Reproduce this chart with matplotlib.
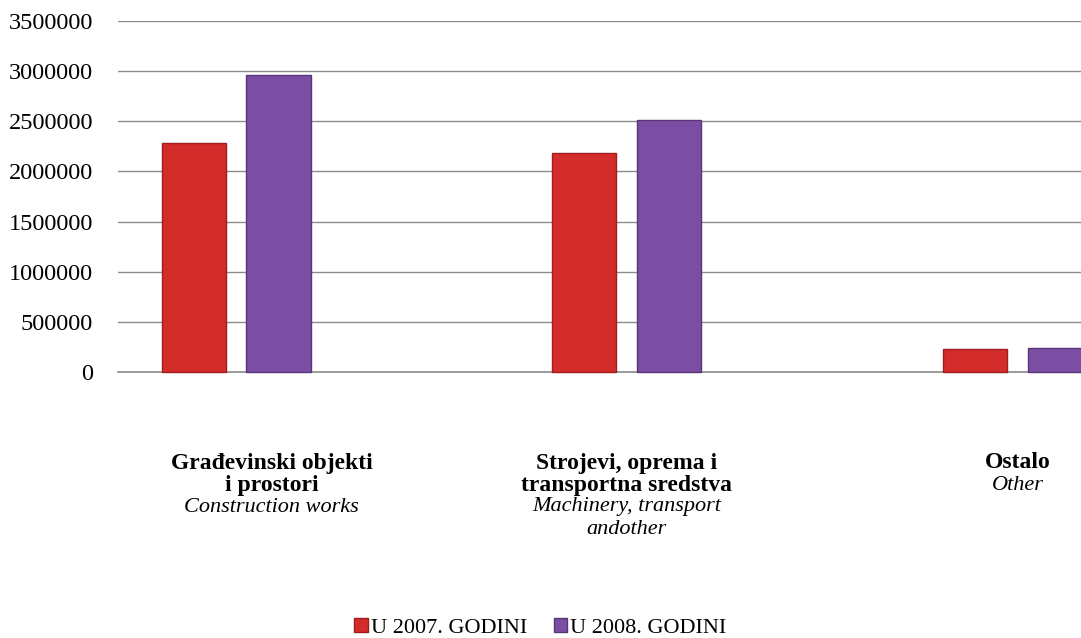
import numpy as np
from matplotlib import pyplot as plt
from matplotlib import transforms

categories_bold = [["Građevinski objekti", "i prostori"],
                   ["Strojevi, oprema i", "transportna sredstva"],
                   ["Ostalo"]]
categories_italic = [["Construction works"],
                     ["Machinery, transport", "andother"],
                     ["Other"]]
series_names = ["U 2007. GODINI", "U 2008. GODINI"]
values_2007 = [2280000, 2180000, 225000]
values_2008 = [2960000, 2510000, 235000]
yticks = [0, 500000, 1000000, 1500000, 2000000, 2500000, 3000000, 3500000]

plt.rcParams["font.family"] = ["Liberation Serif", "DejaVu Serif"]

W, H = 1081, 638
fig = plt.figure(figsize=(W / 100, H / 100), dpi=100)
ax = fig.add_axes([118 / W, 1 - 372 / H, 1 - 118 / W, 351 / H])

x = np.arange(len(values_2007))
w = 0.164
ax.bar(x - 0.109, values_2007, w, color="#d42b2b", edgecolor="#a01c1c", linewidth=1,
       label=series_names[0], zorder=3, clip_on=False)
ax.bar(x + 0.108, values_2008, w, color="#7b4ea3", edgecolor="#573578", linewidth=1,
       label=series_names[1], zorder=3, clip_on=False)

ax.set_ylim(0, 3500000)
ax.set_xlim(-0.303, 2.163)
ax.set_yticks(yticks)
ax.set_yticklabels([str(t) for t in yticks], fontsize=17.5)
ax.set_xticks([])
ax.grid(axis="y", color="#8c8c8c", linewidth=1, zorder=0)
ax.axhline(0, color="#8c8c8c", linewidth=1.2, zorder=1, clip_on=False)
ax.tick_params(axis="y", length=0, pad=18)
for s in ax.spines.values():
    s.set_visible(False)

# category labels under the axis, one line each, 22 px apart
tr = transforms.blended_transform_factory(ax.transData, fig.transFigure)
label_x = [0.09, 1.0, 2.0]
for xi, bold, ital in zip(label_x, categories_bold, categories_italic):
    ypx = 463
    for line in bold:
        ax.text(xi, 1 - ypx / H, line, transform=tr, ha="center", va="center",
                fontsize=17, fontweight="bold")
        ypx += 22
    for line in ital:
        ax.text(xi, 1 - ypx / H, line, transform=tr, ha="center", va="center",
                fontsize=16, style="italic")
        ypx += 22

fig.legend(loc="center", bbox_to_anchor=(0.5, 1 - 628 / H), ncol=2, frameon=False,
           fontsize=16, handlelength=0.6, handleheight=0.6, handletextpad=0.15,
           columnspacing=1.2)

plt.savefig("out.png", dpi=100)
